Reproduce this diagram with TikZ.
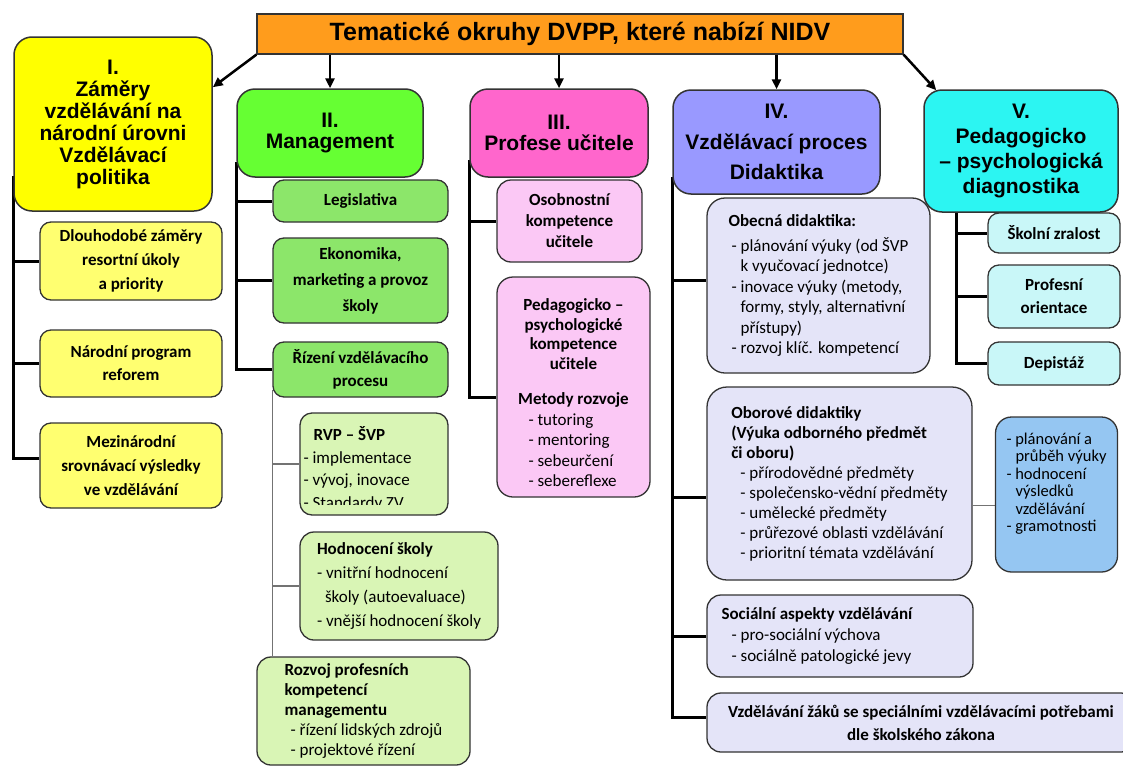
\documentclass[tikz,border=0pt]{standalone}
\usepackage{fontspec}
\setmainfont{Carlito}
\newfontfamily\hf{Liberation Sans}
\usetikzlibrary{arrows.meta,calc}
\pgfdeclarelayer{bg}
\pgfdeclarelayer{lines}
\pgfsetlayers{bg,lines,main}
\definecolor{cT}{HTML}{FF9C1C}
\definecolor{cIh}{HTML}{FFFF00}
\definecolor{cIl}{HTML}{FFFF70}
\definecolor{cIIh}{HTML}{66FF33}
\definecolor{cIIm}{HTML}{8CE66A}
\definecolor{cIIl}{HTML}{D9F5B5}
\definecolor{cIIIh}{HTML}{FF66CC}
\definecolor{cIIIl}{HTML}{FBC8F5}
\definecolor{cIVh}{HTML}{9999FF}
\definecolor{cIVl}{HTML}{E4E4F8}
\definecolor{cVh}{HTML}{2CF5F2}
\definecolor{cVl}{HTML}{C9F7F8}
\definecolor{cBl}{HTML}{95C6F2}
\definecolor{bord}{HTML}{333333}
\begin{document}
\begin{tikzpicture}[x=1pt,y=-1pt,
  hbox/.style={draw=bord, line width=1.5pt, rounded corners=18pt, inner sep=0pt, align=center,
    font=\hf\bfseries\fontsize{21}{21.5}\selectfont},
  cbox/.style={draw=bord, line width=1.3pt, rounded corners=11pt, inner sep=0pt, align=center,
    font=\bfseries\fontsize{17}{22}\selectfont},
  lbox/.style={draw=bord, line width=1.3pt, rounded corners=14pt, inner sep=0pt, align=left,
    font=\fontsize{17}{20.5}\selectfont},
  txt/.style={inner sep=0pt, align=left, font=\fontsize{17}{21}\selectfont},
  trunk/.style={line width=3pt, black},
  twig/.style={line width=1.2pt, black!55},
  arr/.style={line width=2.5pt, black, -{Triangle[length=10pt,width=9pt]}}]
\begin{pgfonlayer}{bg}
\fill[white] (0,0) rectangle (1123,779);
\end{pgfonlayer}
\useasboundingbox (0,0) rectangle (1123,779);
\clip (0,0) rectangle (1123,779);

% title
\node[draw=bord, line width=1.2pt, fill=cT, minimum width=646, minimum height=40, inner sep=0pt,
  font=\hf\bfseries\fontsize{25}{28}\selectfont] (T) at (580,34) {Tematické okruhy DVPP, které nabízí NIDV};

% main boxes
\node[hbox, fill=cIh, minimum width=198, minimum height=174, font=\hf\bfseries\fontsize{21}{22}\selectfont] (I) at (113,124)
  {I.\\Záměry\\vzdělávání na\\národní úrovni\\Vzdělávací\\politika};
\node[hbox, fill=cIIh, minimum width=186, minimum height=88] (II) at (330,133) {II.\\Management};
\node[hbox, fill=cIIIh, minimum width=178, minimum height=88] (III) at (559,133) {III.\\Profese učitele};
\node[hbox, fill=cIVh, minimum width=207, minimum height=104,
  font=\hf\bfseries\fontsize{21}{30.5}\selectfont] (IV) at (776.5,142) {IV.\\Vzdělávací proces\\Didaktika};
\node[hbox, fill=cVh, minimum width=194, minimum height=122,
  font=\hf\bfseries\fontsize{21}{25}\selectfont] (V) at (1021,151) {V.\\Pedagogicko\\– psychologická\\diagnostika};

% I children
\node[cbox, fill=cIl, minimum width=182, minimum height=78, font=\bfseries\fontsize{17}{24}\selectfont] (I1) at (131,261)
  {Dlouhodobé záměry\\resortní úkoly\\a priority};
\node[cbox, fill=cIl, minimum width=182, minimum height=67, font=\bfseries\fontsize{17}{23}\selectfont] (I2) at (131,363.5)
  {Národní program\\reforem};
\node[cbox, fill=cIl, minimum width=182, minimum height=85, font=\bfseries\fontsize{17}{24}\selectfont] (I3) at (131,465.5)
  {Mezinárodní\\srovnávací výsledky\\ve vzdělávání};

% II children
\node[cbox, fill=cIIm, minimum width=175, minimum height=42] (II1) at (360.5,201) {Legislativa};
\node[cbox, fill=cIIm, minimum width=175, minimum height=85, font=\bfseries\fontsize{17}{26}\selectfont] (II2) at (360.5,280.5)
  {Ekonomika,\\marketing a provoz\\školy};
\node[cbox, fill=cIIm, minimum width=175, minimum height=55, font=\bfseries\fontsize{17}{23}\selectfont] (II3) at (360.5,369.5)
  {Řízení vzdělávacího\\procesu};
\node[lbox, fill=cIIl, minimum width=148, minimum height=102, rounded corners=12pt] (RVP) at (374,464) {};
\begin{scope}
  \clip ([yshift=11pt]RVP.south west) rectangle (RVP.north east);
  \node[txt, anchor=north west, font=\fontsize{17}{22.7}\selectfont] (RVPt)
    at ([xshift=4pt,yshift=-14pt]RVP.north west)
    {\hspace*{10pt}\textbf{RVP – ŠVP}\\- implementace\\- vývoj, inovace\\- Standardy ZV};
\end{scope}
\node[lbox, fill=cIIl, minimum width=198, minimum height=108, font=\fontsize{17}{24}\selectfont] (HOD) at (399,586)
  {\textbf{Hodnocení školy}\\- vnitřní hodnocení\\\hspace*{8pt}školy (autoevaluace)\\- vnější hodnocení školy};
\node[lbox, fill=cIIl, minimum width=213, minimum height=108, font=\fontsize{17}{20}\selectfont] (ROZ) at (363.5,711)
  {\textbf{Rozvoj profesních}\\\textbf{kompetencí}\\\textbf{managementu}\\\hspace*{6pt}- řízení lidských zdrojů\\\hspace*{6pt}- projektové řízení};

% III children
\node[cbox, fill=cIIIl, minimum width=145, minimum height=82, rounded corners=14pt, font=\bfseries\fontsize{17}{21}\selectfont] (III1) at (569.5,221)
  {Osobnostní\\kompetence\\učitele};
\node[cbox, fill=cIIIl, minimum width=153, minimum height=220, rounded corners=16pt] (III2) at (573.5,387) {};
\node[txt, align=center, font=\bfseries\fontsize{17}{19.5}\selectfont] (III2t) at ($(III2.center)+(0,6)$)
  {Pedagogicko –\\psychologické\\kompetence\\učitele\\[16pt]Metody rozvoje\\[1pt]
   {\mdseries\makebox[90pt][l]{- tutoring}}\\[1pt]
   {\mdseries\makebox[90pt][l]{- mentoring}}\\[1pt]
   {\mdseries\makebox[90pt][l]{- sebeurčení}}\\[1pt]
   {\mdseries\makebox[90pt][l]{- sebereflexe}}};

% IV children
\node[lbox, fill=cIVl, minimum width=223, minimum height=175, rounded corners=18pt] (IV1) at (818.5,285.5)
  {\textbf{Obecná didaktika:}\\[4pt]
   \hspace*{3pt}- plánování výuky (od ŠVP\\
   \hspace*{12pt}k vyučovací jednotce)\\
   \hspace*{3pt}- inovace výuky (metody,\\
   \hspace*{12pt}formy, styly, alternativní\\
   \hspace*{12pt}přístupy)\\
   \hspace*{3pt}- rozvoj klíč. kompetencí};
\node[lbox, fill=cIVl, minimum width=265, minimum height=193, rounded corners=20pt, font=\fontsize{17}{20}\selectfont] (IV2) at (839.5,483.5)
  {\textbf{Oborové didaktiky}\\\textbf{(Výuka odborného předmět}\\\textbf{či oboru)}\\
   \hspace*{9pt}- přírodovědné předměty\\
   \hspace*{9pt}- společensko-vědní předměty\\
   \hspace*{9pt}- umělecké předměty\\
   \hspace*{9pt}- průřezové oblasti vzdělávání\\
   \hspace*{9pt}- prioritní témata vzdělávání};
\node[lbox, fill=cBl, minimum width=122, minimum height=155, rounded corners=16pt] (BL) at (1056.5,494.5) {};
\node[txt, font=\fontsize{16.5}{17.5}\selectfont] (BLt) at ($(BL.center)+(0,-11)$)
  {- plánování a\\\hspace*{9pt}průběh výuky\\- hodnocení\\\hspace*{9pt}výsledků\\\hspace*{9pt}vzdělávání\\- gramotnosti};
\node[lbox, fill=cIVl, minimum width=266, minimum height=82, rounded corners=14pt] (IV3) at (840,636) {};
\node[txt, anchor=west] (IV3t) at ($(IV3.west)+(15,0)$)
  {\textbf{Sociální aspekty vzdělávání}\\\hspace*{10pt}- pro-sociální výchova\\\hspace*{10pt}- sociálně patologické jevy};
\node[cbox, fill=cIVl, minimum width=428, minimum height=59, rounded corners=14pt, font=\bfseries\fontsize{17}{23}\selectfont] (IV4) at (921,722.5)
  {Vzdělávání žáků se speciálními vzdělávacími potřebami\\dle školského zákona};

% V children
\node[cbox, fill=cVl, minimum width=132, minimum height=40] (V1) at (1054,233) {Školní zralost};
\node[cbox, fill=cVl, minimum width=132, minimum height=63, font=\bfseries\fontsize{17}{23}\selectfont] (V2) at (1054,296.5) {Profesní\\orientace};
\node[cbox, fill=cVl, minimum width=132, minimum height=43] (V3) at (1054,363.5) {Depistáž};

% arrows from title
\draw[arr] (T.south west) -- ($(I.north east)+(0,51)$);
\draw[arr] (II.north |- T.south) -- (II.north);
\draw[arr] (III.north |- T.south) -- (III.north);
\draw[arr] (IV.north |- T.south) -- (IV.north);
\draw[arr] (T.south east) -- ($(V.north west)+(13,1)$);

% connectors
\coordinate (Is) at ($(I.south west)+(0,-36)$);
\coordinate (IIs) at ($(II.south west)+(0,-16)$);
\coordinate (IIIs) at ($(III.south west)+(0,-18)$);
\coordinate (IVs) at ($(IV.south west)+(0,-18)$);
\coordinate (Vs) at ($(V.south west)+(33,-5)$);
\coordinate (Rs) at ($(II3.south west)+(0,-8)$);
\coordinate (c31) at ($(I3.west)+(0,-7)$);
\coordinate (c32) at ($(III2.west)+(0,10)$);
\coordinate (c41) at ($(IV1.west)+(0,-5.5)$);
\coordinate (c42) at ($(IV2.west)+(0,13.5)$);
\coordinate (c44) at ($(IV4.west)+(0,-5.5)$);
\coordinate (ob) at ($(IV2.east)+(0,22)$);
\begin{pgfonlayer}{lines}
\draw[trunk] (Is) |- (c31);
\draw[trunk] (Is |- I1.west) -- (I1.west);
\draw[trunk] (Is |- I2.west) -- (I2.west);
\draw[trunk] (IIs) |- (II3.west);
\draw[trunk] (IIs |- II1.west) -- (II1.west);
\draw[trunk] (IIs |- II2.west) -- (II2.west);
\draw[twig] (Rs) -- (Rs |- ROZ.north);
\draw[twig] (Rs |- RVP.west) -- (RVP.west);
\draw[twig] (Rs |- HOD.west) -- (HOD.west);
\draw[trunk] (IIIs) |- (c32);
\draw[trunk] (IIIs |- III1.west) -- (III1.west);
\draw[trunk] (IVs) |- (c44);
\draw[trunk] (IVs |- c41) -- (c41);
\draw[trunk] (IVs |- c42) -- (c42);
\draw[trunk] (IVs |- IV3.west) -- (IV3.west);
\draw[twig] (ob) -- (ob -| BL.west);
\draw[trunk] (Vs) |- (V3.west);
\draw[trunk] (Vs |- V1.west) -- (V1.west);
\draw[trunk] (Vs |- V2.west) -- (V2.west);
\end{pgfonlayer}
\end{tikzpicture}
\end{document}
